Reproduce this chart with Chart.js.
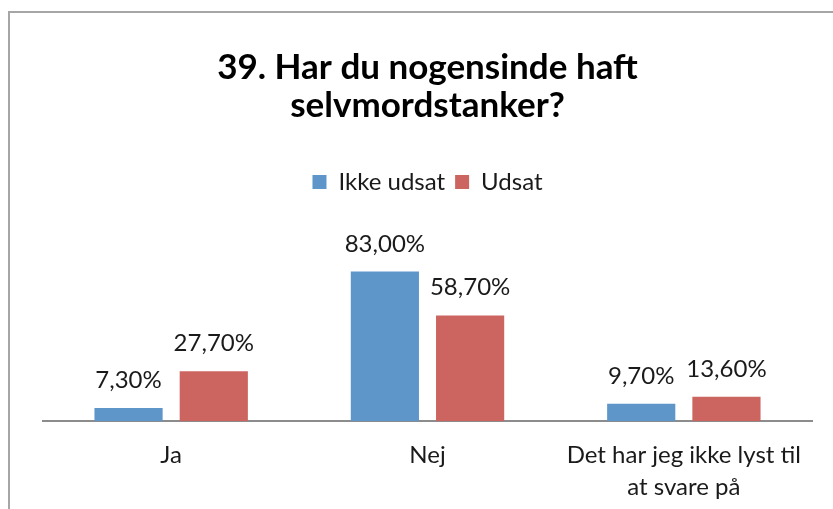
<!DOCTYPE html>
<html>
<head>
<meta charset="utf-8">
<script src="https://cdn.jsdelivr.net/npm/chart.js@4"></script>
<style>
  html, body { margin: 0; padding: 0; background: #fff; }
  #frame {
    position: absolute; left: 8px; top: 11px;
    width: 823px; height: 496px;
    border-left: 2px solid #a6a6a6; border-top: 2px solid #a6a6a6;
  }
</style>
</head>
<body>
<div id="frame"><canvas id="chart" width="823" height="496"></canvas></div>
<script>
const categories = ['Ja', 'Nej', ['Det har jeg ikke lyst til', 'at svare på']];
const ikkeUdsat = [7.3, 83.0, 9.7];
const udsat = [27.7, 58.7, 13.6];

const FONT = "Lato, 'Open Sans', sans-serif";

// value labels over each bar, "83,00%" style
const barLabels = {
  id: 'barLabels',
  afterDatasetsDraw(chart) {
    const ctx = chart.ctx;
    ctx.save();
    ctx.font = '24px ' + FONT;
    ctx.fillStyle = '#1a1a1a';
    ctx.textAlign = 'center';
    ctx.textBaseline = 'alphabetic';
    chart.data.datasets.forEach((ds, i) => {
      chart.getDatasetMeta(i).data.forEach((bar, j) => {
        const txt = ds.data[j].toFixed(2).replace('.', ',') + '%';
        ctx.fillText(txt, bar.x, bar.y - 20);
      });
    });
    ctx.restore();
  }
};

// extra room between legend and plot area
const legendGap = {
  id: 'legendGap',
  beforeInit(chart) {
    const fit = chart.legend.fit;
    chart.legend.fit = function () {
      fit.call(this);
      this.height += 55;
    };
  }
};

new Chart(document.getElementById('chart'), {
  type: 'bar',
  data: {
    labels: categories,
    datasets: [
      { label: 'Ikke udsat', data: ikkeUdsat, backgroundColor: '#5f96ca',
        barPercentage: 0.8, categoryPercentage: 0.665 },
      { label: 'Udsat', data: udsat, backgroundColor: '#cc645f',
        barPercentage: 0.8, categoryPercentage: 0.665 }
    ]
  },
  options: {
    responsive: false,
    animation: false,
    layout: { padding: { left: 33, right: 21, top: 20, bottom: -12 } },
    scales: {
      x: {
        grid: { display: false, drawTicks: false },
        border: { color: '#8c8c8c', width: 2 },
        ticks: { color: '#1a1a1a', font: { family: FONT, size: 24, lineHeight: 1.33 }, padding: 18, maxRotation: 0 }
      },
      y: { display: false, min: 0, max: 90 }
    },
    plugins: {
      title: {
        display: true,
        text: ['39. Har du nogensinde haft', 'selvmordstanker?'],
        color: '#000',
        font: { family: FONT, size: 35, weight: 'bold', lineHeight: 1.1 },
        padding: { top: 15, bottom: 35 }
      },
      legend: {
        position: 'top',
        labels: {
          color: '#1a1a1a',
          font: { family: FONT, size: 24 },
          boxWidth: 14, boxHeight: 14, padding: 10
        }
      },
      tooltip: { enabled: false }
    }
  },
  plugins: [barLabels, legendGap]
});
</script>
</body>
</html>
